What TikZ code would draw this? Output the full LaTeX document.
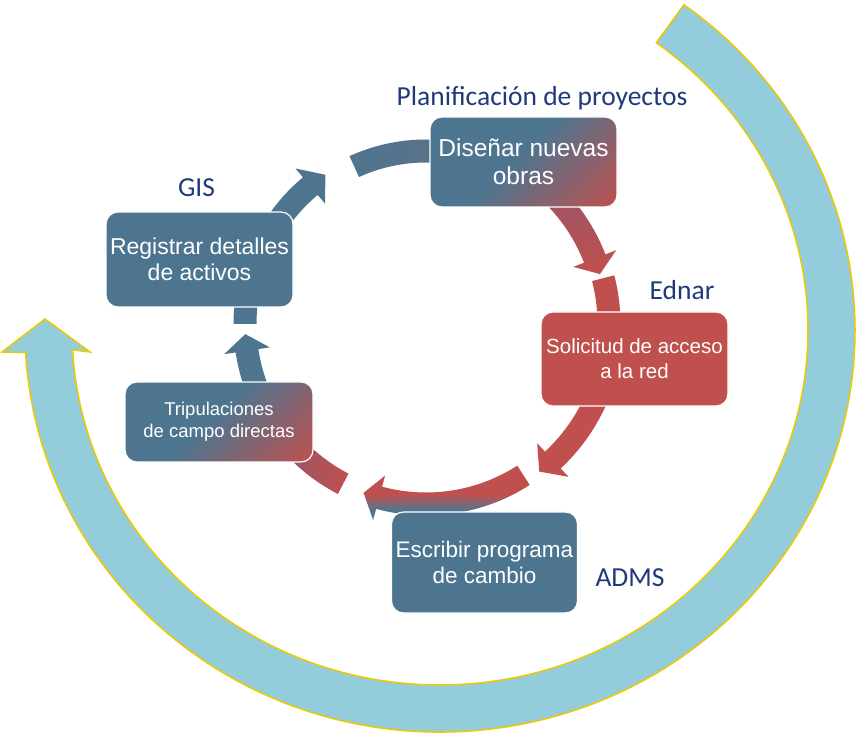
\documentclass[tikz,border=0pt]{standalone}
\usepackage{fontspec}
\setmainfont{Liberation Sans}
\newfontfamily\labfont{Carlito}
\definecolor{cblue}{HTML}{4E7590}
\definecolor{cred}{HTML}{C0504D}
\definecolor{cmauve}{HTML}{95566A}
\definecolor{clab}{HTML}{1F3A7A}
\definecolor{cring}{HTML}{93CDDC}
\definecolor{cgold}{HTML}{EBC800}
\pgfdeclarehorizontalshading{boxbr}{100bp}{color(0bp)=(cblue); color(47bp)=(cblue); color(85bp)=(cred); color(100bp)=(cred)}
\pgfdeclareverticalshading{arrrb}{100bp}{color(0bp)=(cblue); color(36bp)=(cblue); color(50bp)=(cred); color(100bp)=(cred)}
% curved arrow: style, radius, start angle, head base angle, tip angle
\newcommand\cycarrow[5]{%
  \path[#1] (#3:{#2+11.5}) arc[start angle=#3, end angle=#4, radius={#2+11.5}]
    -- (#4:{#2+23}) -- (#5:#2) -- (#4:{#2-23}) -- (#4:{#2-11.5})
    arc[start angle=#4, end angle=#3, radius={#2-11.5}] -- cycle;}
% curved stub: style, radius, start angle, end angle
\newcommand\cycstub[4]{%
  \path[#1] (#3:{#2+11.5}) arc[start angle=#3, end angle=#4, radius={#2+11.5}]
    -- (#4:{#2-11.5}) arc[start angle=#4, end angle=#3, radius={#2-11.5}] -- cycle;}
\begin{document}
\begin{tikzpicture}[x=1pt,y=1pt,
  box/.style={rounded corners=12pt, draw=white, line width=1.2pt, text=white,
    align=center, inner sep=0pt},
  lab/.style={text=clab, font=\labfont\fontsize{27.5}{30}\selectfont, anchor=base, inner sep=0pt}]
\useasboundingbox (0,0) rectangle (856,733);
% outer ring arrow
\path[fill=cring, draw=cgold, line width=1.5pt, line join=miter]
  (683.9,728.2) arc[start angle=54, end angle=-176.8, x radius=415, y radius=402]
  -- (2,381) -- (45,414) -- (90,381) -- (72.57,383.18)
  arc[start angle=-176.8, end angle=54, x radius=368, y radius=355] -- cycle;
% inner cycle arrows
\begin{scope}[shift={(426,409)}]
  \cycarrow{fill=cblue}{180}{150}{130}{124}
  \cycstub{left color=cblue, right color=cblue!85!cred}{173}{114.5}{80}
  \cycarrow{top color=cmauve, bottom color=cred}{181}{50}{21.2}{16}
  \cycstub{fill=cred}{183}{14.5}{-5}
  \cycarrow{fill=cred}{186}{-20}{-47}{-52.5}
  \cycarrow{shade, shading=arrrb}{180}{-57.2}{-105.1}{-110.3}
  \cycstub{left color=cmauve, right color=cred}{180}{-117.4}{-140}
  \cycarrow{fill=cblue}{181}{-150}{-171.5}{-176.8}
  \cycstub{fill=cblue}{181}{180}{170}
\end{scope}
% boxes
\node[box, shade, shading=boxbr, shading angle=-45, minimum width=187pt, minimum height=90pt,
  font=\fontsize{24.5}{28.5}\selectfont] (dis) at (523.5,571) {Diseñar nuevas\\obras};
\node[box, fill=cred, minimum width=187pt, minimum height=94pt,
  font=\fontsize{20.5}{25}\selectfont] (sol) at (634.5,374) {Solicitud de acceso\\a la red};
\node[box, fill=cblue, minimum width=186pt, minimum height=101pt,
  font=\fontsize{22.5}{25.6}\selectfont] (esc) at (484.5,170.5) {Escribir programa\\de cambio};
\node[box, shade, shading=boxbr, shading angle=-45, minimum width=188pt, minimum height=80pt,
  font=\fontsize{18.5}{22.3}\selectfont] (tri) at (219,311) {Tripulaciones\\de campo directas};
\node[box, fill=cblue, minimum width=187pt, minimum height=95pt,
  font=\fontsize{23}{26.5}\selectfont] (reg) at (199.5,473.5) {Registrar detalles\\de activos};
% labels
\node[lab] (lplan) at (542,627) {Planificación de proyectos};
\node[lab] (lgis) at (196.5,536.3) {GIS};
\node[lab] (lednar) at (682,433) {Ednar};
\node[lab] (ladms) at (630,146) {ADMS};
\end{tikzpicture}
\end{document}
